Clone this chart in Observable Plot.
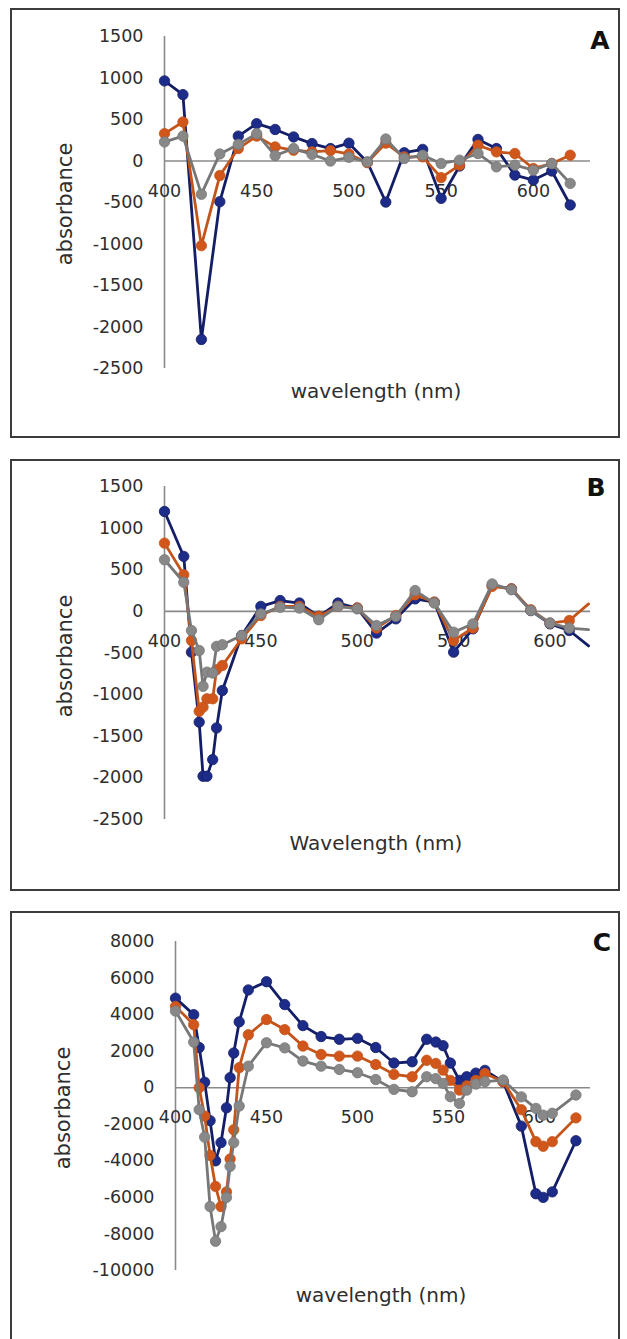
<!DOCTYPE html>
<html>
<head>
<meta charset="utf-8">
<script src="https://cdn.jsdelivr.net/npm/d3@7"></script>
<script src="https://cdn.jsdelivr.net/npm/@observablehq/plot@0.6"></script>
<style>
  html, body { margin: 0; padding: 0; background: #ffffff; }
  body { width: 627px; height: 1339px; position: relative; overflow: hidden; }
  .panel { position: absolute; box-sizing: border-box; border: 2px solid #3c3c3c; background: #fff; }
  .panel svg { display: block; }
</style>
</head>
<body>
<div id="pA" class="panel" style="left:10px; top:8px; width:610px; height:430px;"></div>
<div id="pB" class="panel" style="left:10px; top:459px; width:610px; height:432px;"></div>
<div id="pC" class="panel" style="left:10px; top:911px; width:610px; height:432px;"></div>
<script>
// ---------- Panel A ----------
const A_wl     = [400,410,420,430,440,450,460,470,480,490,500,510,520,530,540,550,560,570,580,590,600,610,620];
const A_blue   = [965,800,-2150,-490,300,450,380,290,210,150,215,-15,-495,100,140,-450,-60,260,150,-170,-230,-120,-530];
const A_orange = [330,470,-1020,-175,150,300,170,130,110,125,85,-20,215,50,50,-200,-50,190,110,90,-90,-30,70];
const A_gray   = [230,300,-400,85,200,330,65,150,80,0,45,-10,265,30,70,-30,10,90,-70,-50,-110,-30,-270];
const A_yTicks = [1500,1000,500,0,-500,-1000,-1500,-2000,-2500];

// ---------- Panel B ----------
const B_wl     = [400,410,414,418,420,422,425,427,430,440,450,460,470,480,490,500,510,520,530,540,550,560,570,580,590,600,610,620];
const B_blue   = [1200,660,-490,-1330,-1980,-1980,-1780,-1400,-950,-290,60,130,100,-60,100,40,-260,-90,150,110,-490,-210,310,270,10,-150,-230,-415];
const B_orange = [820,440,-350,-1200,-1150,-1050,-1050,-700,-650,-330,-50,60,60,-60,60,40,-200,-50,200,110,-350,-200,300,270,20,-140,-110,90];
const B_gray   = [620,350,-230,-470,-900,-730,-740,-420,-400,-290,-30,50,40,-100,60,30,-170,-60,250,100,-250,-150,330,260,10,-140,-200,-220];
const B_yTicks = [1500,1000,500,0,-500,-1000,-1500,-2000,-2500];

// ---------- Panel C ----------
const C_wl     = [400,410,413,416,419,422,425,428,430,432,435,440,450,460,470,480,490,500,510,520,530,538,543,547,551,556,560,565,570,580,590,598,602,607,620];
const C_blue   = [4900,4000,2200,300,-1800,-4000,-3000,-1100,550,1900,3600,5350,5800,4550,3400,2800,2650,2700,2200,1350,1420,2650,2500,2300,1350,400,600,800,950,330,-2100,-5800,-6000,-5700,-2900];
const C_orange = [4450,3450,0,-1550,-3700,-5400,-6500,-5700,-3900,-2300,1100,2900,3730,3180,2280,1820,1730,1730,1270,730,600,1500,1330,965,400,-130,100,400,780,330,-1200,-2950,-3200,-2950,-1650];
const C_gray   = [4200,2500,-1200,-2700,-6500,-8400,-7600,-6000,-4300,-3000,-1000,1180,2460,2180,1460,1180,1000,820,450,-90,-220,600,500,240,-490,-860,-130,200,330,420,-500,-1130,-1500,-1400,-400];
const C_yTicks = [8000,6000,4000,2000,0,-2000,-4000,-6000,-8000,-10000];

const xTicks = [400,450,500,550,600];
const seriesNames = ["blue","orange","gray"];
const lineColors = {blue: "#141e66", orange: "#c4551a", gray: "#777777"};
const dotColors  = {blue: "#1d2c88", orange: "#d0561c", gray: "#888888"};

const FONT = "'DejaVu Sans', sans-serif";

function table(wl, lists) {
  const rows = [];
  seriesNames.forEach((s, k) => {
    wl.forEach((w, i) => rows.push({s, wl: w, v: lists[k][i], last: i === wl.length - 1}));
  });
  return rows;
}

function panel(cfg) {
  const rows = table(cfg.wl, cfg.series);
  const marks = [
    Plot.ruleY([0], {stroke: "#8a8a8a", strokeWidth: 1.6}),
    Plot.ruleX([cfg.xDomain[0]], {stroke: "#8a8a8a", strokeWidth: 1.6}),
    Plot.axisY({ticks: cfg.yTicks, tickSize: 0, tickPadding: 21, tickFormat: d => String(d),
                fontSize: 17.5, fill: "#2e2e2e", label: null, fontFamily: FONT}),
    Plot.text(xTicks, {x: d => d, y: d => 0, dy: 30, text: d => String(d), fontSize: 17.5,
                       fill: "#2e2e2e", fontFamily: FONT})
  ];
  for (const s of seriesNames) {
    const sub = rows.filter(r => r.s === s);
    marks.push(Plot.line(sub, {x: "wl", y: "v", stroke: lineColors[s], strokeWidth: 2.8}));
    const dots = cfg.noLastMarker ? sub.filter(r => !r.last) : sub;
    marks.push(Plot.dot(dots, {x: "wl", y: "v", fill: dotColors[s], stroke: lineColors[s],
                               strokeWidth: 0.8, r: 5.2}));
  }
  const svg = Plot.plot({
    width: 606, height: cfg.innerH,
    marginLeft: cfg.ml, marginRight: cfg.mr, marginTop: cfg.mt, marginBottom: cfg.mb,
    style: {fontFamily: FONT, background: "white", overflow: "visible"},
    x: {domain: cfg.xDomain, axis: null},
    y: {domain: cfg.yDomain, axis: null},
    marks
  });
  const sel = d3.select(svg);
  sel.append("text").attr("x", cfg.yLab[0]).attr("y", cfg.yLab[1])
    .attr("transform", `rotate(-90 ${cfg.yLab[0]} ${cfg.yLab[1]})`)
    .attr("text-anchor", "middle").attr("dominant-baseline", "central")
    .attr("font-family", FONT).attr("font-size", 21).attr("fill", "#2e2e2e")
    .text("absorbance");
  sel.append("text").attr("x", cfg.xLab[0]).attr("y", cfg.xLab[1])
    .attr("text-anchor", "middle").attr("dominant-baseline", "central")
    .attr("font-family", FONT).attr("font-size", 20).attr("fill", "#2e2e2e")
    .text(cfg.xTitle);
  sel.append("text").attr("x", cfg.letter[0]).attr("y", cfg.letter[1])
    .attr("text-anchor", "middle").attr("dominant-baseline", "central")
    .attr("font-family", FONT).attr("font-size", 25).attr("font-weight", "bold").attr("fill", "#111")
    .text(cfg.name);
  document.getElementById(cfg.id).appendChild(svg);
}

panel({id: "pA", name: "A", wl: A_wl, series: [A_blue, A_orange, A_gray], yTicks: A_yTicks,
       xDomain: [400, 631], yDomain: [-2500, 1500], innerH: 426,
       ml: 152, mr: 28, mt: 26, mb: 68,
       yLab: [53, 194], xLab: [364, 381], letter: [588, 30], xTitle: "wavelength (nm)"});
panel({id: "pB", name: "B", wl: B_wl, series: [B_blue, B_orange, B_gray], yTicks: B_yTicks,
       xDomain: [400, 621], yDomain: [-2500, 1500], innerH: 428, noLastMarker: true,
       ml: 152, mr: 28, mt: 25, mb: 70,
       yLab: [53, 195], xLab: [364, 382], letter: [584, 26], xTitle: "Wavelength (nm)"});
panel({id: "pC", name: "C", wl: C_wl, series: [C_blue, C_orange, C_gray], yTicks: C_yTicks,
       xDomain: [400, 628], yDomain: [-10000, 8000], innerH: 428,
       ml: 163, mr: 28, mt: 28, mb: 71,
       yLab: [51, 195], xLab: [369, 382], letter: [590, 29], xTitle: "wavelength (nm)"});
</script>
</body>
</html>
